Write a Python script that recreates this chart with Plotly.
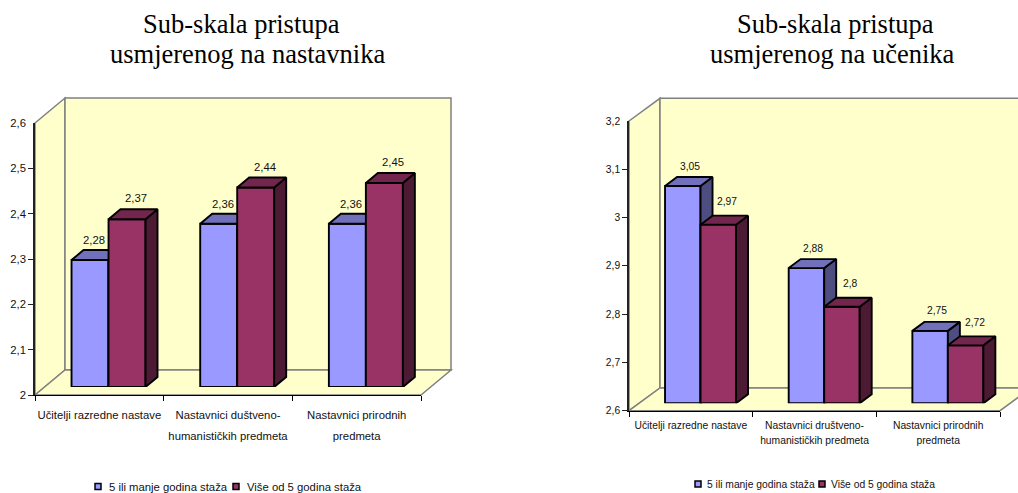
import plotly.graph_objects as go

W, H = 1018, 493

# ---- data ----
series_names = ["5 ili manje godina staža", "Više od 5 godina staža"]
left_title = ["Sub-skala pristupa", "usmjerenog na nastavnika"]
right_title = ["Sub-skala pristupa", "usmjerenog na učenika"]
left_categories = [["Učitelji razredne nastave"], ["Nastavnici duštveno-", "humanističkih predmeta"], ["Nastavnici prirodnih", "predmeta"]]
right_categories = [["Učitelji razredne nastave"], ["Nastavnici društveno-", "humanističkih predmeta"], ["Nastavnici prirodnih", "predmeta"]]
left_series1 = [2.28, 2.36, 2.36]
left_series2 = [2.37, 2.44, 2.45]
right_series1 = [3.05, 2.88, 2.75]
right_series2 = [2.97, 2.8, 2.72]
left_ticks = [2.0, 2.1, 2.2, 2.3, 2.4, 2.5, 2.6]
left_tick_labels = ["2", "2,1", "2,2", "2,3", "2,4", "2,5", "2,6"]
right_ticks = [2.6, 2.7, 2.8, 2.9, 3.0, 3.1, 3.2]
right_tick_labels = ["2,6", "2,7", "2,8", "2,9", "3", "3,1", "3,2"]

# ---- style ----
FRONT = ["#9999FF", "#993366"]
TOP = ["#7070BB", "#73264D"]
SIDE = ["#4D4D80", "#4D1A33"]
WALL = "#FFFFCC"
GRID = "#808080"
SANS = "Liberation Sans, Arial, sans-serif"
SERIF = "Liberation Serif, Times New Roman, serif"
BAR_EDGE = 1.9

fig = go.Figure()
shapes, annotations = [], []
layout_axes = {}


def px(x):
    return x / W


def py(y):
    return 1 - y / H


def poly(points, fill):
    path = "M " + " L ".join(f"{px(a)},{py(b)}" for a, b in points) + " Z"
    shapes.append(dict(type="path", path=path, xref="paper", yref="paper", fillcolor=fill,
                       line=dict(color=GRID, width=1.5), layer="below"))


def panel(first_id, frame, ticks, tick_labels, categories, s1, s2, font_size, title, title_cxs, title_ys, title_size,
          cat_line_font, standoff, legend):
    x0, x1, yb, yt = frame["x0"], frame["x1"], frame["yb"], frame["yt"]
    wx, wy = frame["wall"]
    sx, sy = frame["shift"]
    dx, dy = frame["depth"]
    bw = frame["bar"]
    vmin, vmax = ticks[0], ticks[-1]
    xunit = (x1 - x0) / 3
    yunit = (yb - yt) / (vmax - vmin)

    # walls and floor
    poly([(x0, yt), (x0 + wx, yt - wy), (x0 + wx, yb - wy), (x0, yb)], WALL)
    poly([(x0 + wx, yt - wy), (x1 + wx, yt - wy), (x1 + wx, yb - wy), (x0 + wx, yb - wy)], WALL)
    poly([(x0, yb), (x0 + wx, yb - wy), (x1 + wx, yb - wy), (x1, yb)], WALL)

    def ax(i):
        return "" if i == 1 else str(i)

    # front axes (visible)
    a = ax(first_id)
    cats = list(range(len(categories)))
    ticktext = ["<br>".join(f'<span style="font-size:{font_size[1]}px">{t}</span>' for t in lines)
                for lines in categories]
    layout_axes["xaxis" + a] = dict(
        domain=[px(x0), px(x1)], range=[-0.5, 2.5], anchor="y" + a, tickmode="array", tickvals=cats,
        ticktext=ticktext, ticklen=0, ticks="", showgrid=False, zeroline=False, showline=True,
        linecolor="#000000", linewidth=1.4, tickfont=dict(family=SANS, size=cat_line_font, color="#111111"),
        ticklabelstandoff=standoff[0], tickangle=0, automargin=False,
        minor=dict(tickmode="array", tickvals=[-0.5, 0.5, 1.5, 2.5], ticks="outside", ticklen=5,
                   tickcolor="#000000", tickwidth=1.2, showgrid=False))
    layout_axes["yaxis" + a] = dict(
        domain=[py(yb), py(yt)], range=[vmin, vmax], anchor="x" + a, tickmode="array", tickvals=ticks,
        ticktext=tick_labels, ticklen=0, ticks="", showgrid=False, zeroline=False, showline=True,
        linecolor="#222222", linewidth=1.5, tickfont=dict(family=SANS, size=font_size[0], color="#111111"),
        ticklabelstandoff=standoff[1], automargin=False,
        minor=dict(tickmode="array", tickvals=ticks[:-1], ticks="outside", ticklen=5,
                   tickcolor="#222222", tickwidth=1.2, showgrid=False))
    # empty anchor trace so the front axes are built
    fig.add_trace(go.Scatter(x=[None], y=[None], xaxis="x" + a, yaxis="y" + a, showlegend=False, hoverinfo="skip"))

    du, dv = dx / xunit, dy / yunit
    bu = bw / xunit
    for k, vals in enumerate([s1, s2]):
        b = ax(first_id + 1 + k)
        layout_axes["xaxis" + b] = dict(domain=[px(x0 + sx), px(x1 + sx)], range=[-0.5, 2.5], visible=False,
                                        anchor="y" + b, automargin=False)
        layout_axes["yaxis" + b] = dict(domain=[py(yb - sy), py(yt - sy)], range=[vmin, vmax], visible=False,
                                        anchor="x" + b, automargin=False)
        left_edge = -bu if k == 0 else 0.0
        fig.add_trace(go.Bar(x=cats, y=[v - vmin for v in vals], base=vmin, width=bu, offset=left_edge,
                             marker=dict(color=FRONT[k], line=dict(color="#000000", width=BAR_EDGE)),
                             xaxis="x" + b, yaxis="y" + b, cliponaxis=False, showlegend=False, name=series_names[k]))
        sx_pts, sy_pts, tx_pts, ty_pts = [], [], [], []
        for c, v in zip(cats, vals):
            l, r = c + left_edge, c + left_edge + bu
            sx_pts += [r, r + du, r + du, r, r, None]
            sy_pts += [vmin, vmin + dv, v + dv, v, vmin, None]
            tx_pts += [l, l + du, r + du, r, l, None]
            ty_pts += [v, v + dv, v + dv, v, v, None]
        for xs, ys, col in [(sx_pts, sy_pts, SIDE[k]), (tx_pts, ty_pts, TOP[k])]:
            fig.add_trace(go.Scatter(x=xs, y=ys, mode="lines", fill="toself", fillcolor=col,
                                     line=dict(color="#000000", width=BAR_EDGE), xaxis="x" + b, yaxis="y" + b,
                                     cliponaxis=False, showlegend=False, hoverinfo="skip"))
        nudge_x, nudge_y = frame["label"][k]
        for c, v in zip(cats, vals):
            annotations.append(dict(x=c + left_edge + bu / 2, y=v, xref="x" + b, yref="y" + b, showarrow=False,
                                    xanchor="center", yanchor="middle",
                                    text=str(v).replace(".", ","), xshift=nudge_x, yshift=nudge_y,
                                    font=dict(family=SANS, size=font_size[0], color="#111111")))

    for line, cx, yy in zip(title, title_cxs, title_ys):
        annotations.append(dict(x=px(cx), y=py(yy), xref="paper", yref="paper", showarrow=False, text=line,
                                xanchor="center", yanchor="middle",
                                font=dict(family=SERIF, size=title_size, color="#000000")))

    # legend key
    for name, col, (sq, tx) in zip(series_names, FRONT, legend["items"]):
        ly = legend["y"]
        shapes.append(dict(type="rect", xref="paper", yref="paper", x0=px(sq - 3), x1=px(sq + 3), y0=py(ly + 3),
                           y1=py(ly - 3), fillcolor=col, line=dict(color="#000000", width=1.5)))
        annotations.append(dict(x=px(tx), y=py(ly), xref="paper", yref="paper", showarrow=False, text=name,
                                xanchor="left", yanchor="middle",
                                font=dict(family=SANS, size=legend["size"], color="#111111")))


panel(1, dict(x0=35, x1=421, yb=395, yt=123, wall=(30, 25), shift=(9.2, 8), depth=(12, 10), bar=37,
              label=[(4, 20), (9, 21)]),
      left_ticks, left_tick_labels, left_categories, left_series1, left_series2, (11.3, 11.3), left_title, (241.5, 247),
      (24, 54), 26.5, 16, (4, 5), dict(y=486.5, size=11.3, items=[(98, 107), (236, 245)]))
panel(4, dict(x0=629, x1=1000, yb=410.7, yt=121, wall=(31, 22.7), shift=(9.7, 7.4), depth=(12, 9), bar=35.5,
              label=[(7, 20), (9, 23)]),
      right_ticks, right_tick_labels, right_categories, right_series1, right_series2, (10.3, 10.3), right_title,
      (835, 832.5), (24, 54), 26.5, 11.5, (3, 5), dict(y=484, size=10.3, items=[(698, 705), (822, 829)]))

fig.update_layout(width=W, height=H, margin=dict(l=0, r=0, t=0, b=0), paper_bgcolor="#FFFFFF",
                  plot_bgcolor="rgba(0,0,0,0)", showlegend=False, barmode="overlay", shapes=shapes,
                  annotations=annotations, **layout_axes)
fig.write_html("out.html", config=dict(displayModeBar=False),
               post_script="document.body.style.margin='0';document.body.style.overflow='hidden';")
